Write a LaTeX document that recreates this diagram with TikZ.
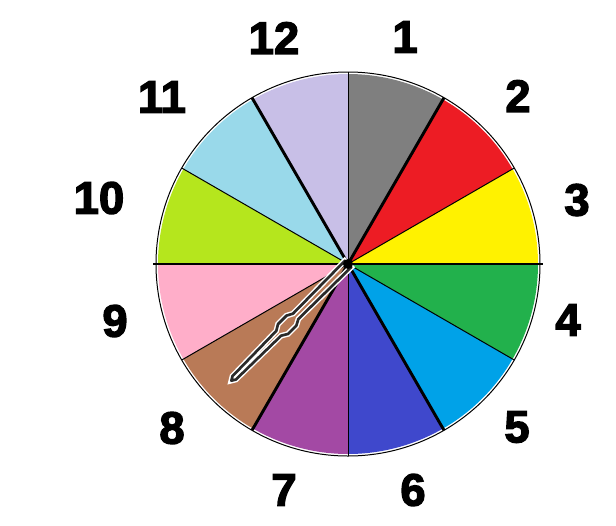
\documentclass[tikz,border=0pt]{standalone}
\usepackage{fontspec}
\setmainfont{Liberation Sans}
\newfontfamily\numfont{Liberation Sans Bold}[FakeBold=3]
\definecolor{hgray}{HTML}{7F7F7F}
\definecolor{hred}{HTML}{ED1C24}
\definecolor{hyellow}{HTML}{FFF200}
\definecolor{hgreen}{HTML}{22B14C}
\definecolor{hblue}{HTML}{00A2E8}
\definecolor{hindigo}{HTML}{3F48CC}
\definecolor{hpurple}{HTML}{A349A4}
\definecolor{hbrown}{HTML}{B97A57}
\definecolor{hpink}{HTML}{FFAEC9}
\definecolor{hlime}{HTML}{B5E61D}
\definecolor{hsky}{HTML}{99D9EA}
\definecolor{hlavender}{HTML}{C8BFE7}
\definecolor{handcol}{HTML}{2A2A2A}
\begin{document}
\begin{tikzpicture}[x=0.75pt, y=-0.75pt,
    thinline/.style={line width=0.75pt},
    thickline/.style={line width=2.2pt},
    hournum/.style={font=\fontsize{34}{34}\numfont, inner sep=0pt}]
  \useasboundingbox (0,0) rectangle (616,525);
  \coordinate (O) at (348,264);
  % 12色の扇形 (k時の扇形)
  \foreach \k/\c in {1/hgray,2/hred,3/hyellow,4/hgreen,5/hblue,6/hindigo,
                     7/hpurple,8/hbrown,9/hpink,10/hlime,11/hsky,12/hlavender}
    \fill[\c] (O) -- ++(30*\k-120:190)
      arc[start angle=30*\k-120, end angle=30*\k-90, radius=190] -- cycle;
  % 外周
  \draw[thinline] (O) circle[radius=192];
  % 細い境界線
  \foreach \a in {30,90,150,210,270,330}
    \draw[thinline] (O) -- ++(\a:192);
  % 太い境界線
  \foreach \a in {60,120,240,300}
    \draw[thickline] (O) -- ++(\a:192);
  \draw[thickline] (O) ++(-195,0) -- ++(390,0);
  % 針 (8時の少し手前)
  \begin{scope}[shift={(O)}, rotate=225]
    \path[line join=round] (0,-4.5) -- (74,-3.8) -- (80,-7) -- (92,-7)
      -- (98,-3.4) -- (161,-2.4) -- (165,0) -- (161,2.4) -- (98,3.4)
      -- (92,7) -- (80,7) -- (74,3.8) -- (0,4.5) -- cycle
      [preaction={draw=white, line width=4.2pt}]
      [draw=handcol, line width=2pt];
  \end{scope}
  \fill (O) circle[radius=5];
  % 文字盤の数字
  \node[hournum] (n12) at (274,38) {12};
  \node[hournum] (n1) at (405,37) {1};
  \node[hournum] (n2) at (518,96) {2};
  \node[hournum] (n3) at (577,200) {3};
  \node[hournum] (n4) at (568,320) {4};
  \node[hournum] (n5) at (517,427) {5};
  \node[hournum] (n6) at (413,490) {6};
  \node[hournum] (n7) at (284,490) {7};
  \node[hournum] (n8) at (172,428) {8};
  \node[hournum] (n9) at (115,321) {9};
  \node[hournum] (n10) at (99,198) {10};
  \node[hournum] (n11) at (162,97) {11};
\end{tikzpicture}
\end{document}
